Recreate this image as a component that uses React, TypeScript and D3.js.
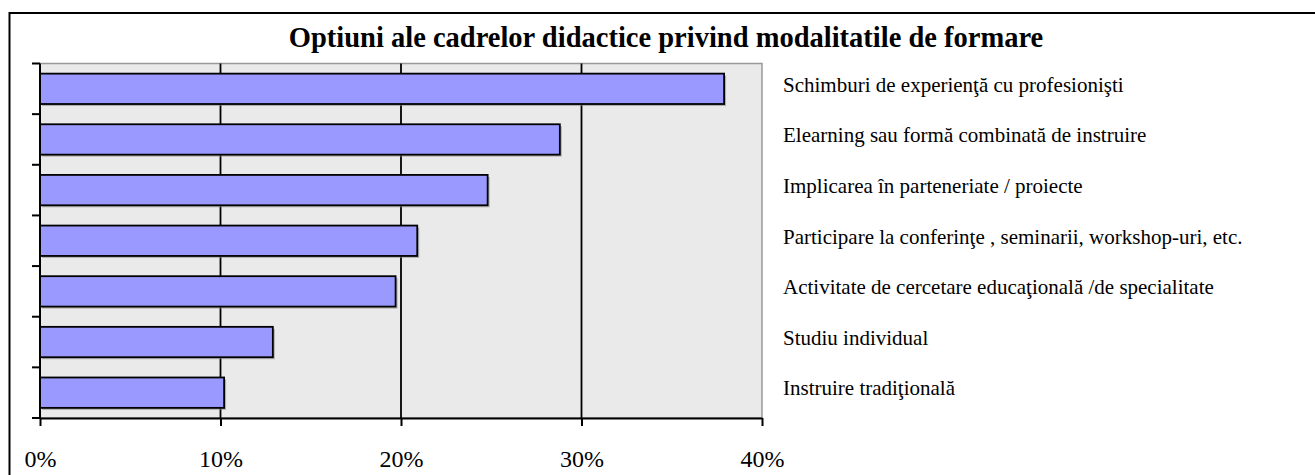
import React, { useRef, useEffect } from 'react';
import * as d3 from 'd3';

const categories = [
  'Schimburi de experienţă cu profesionişti',
  'Elearning sau formă combinată de instruire',
  'Implicarea în parteneriate / proiecte',
  'Participare la conferinţe , seminarii, workshop-uri, etc.',
  'Activitate de cercetare educaţională /de specialitate',
  'Studiu individual',
  'Instruire tradiţională',
];
const values = [37.9, 28.8, 24.8, 20.9, 19.7, 12.9, 10.2];
const xTicks = [0, 10, 20, 30, 40];
const title = 'Optiuni ale cadrelor didactice privind modalitatile de formare';

const App = () => {
  const ref = useRef<HTMLDivElement>(null);

  useEffect(() => {
    const width = 1315;
    const height = 475;
    const font = "'Liberation Serif', 'DejaVu Serif', serif";

    // plot area
    const left = 40, right = 762, top = 63.5, bottom = 418;

    d3.select(ref.current).selectAll('svg').remove();

    const svg = d3.select(ref.current)
      .append('svg')
      .attr('width', width)
      .attr('height', height)
      .attr('font-family', font)
      .style('position', 'absolute')
      .style('left', 0)
      .style('top', 0);

    // outer chart border (runs off the right/bottom of the picture)
    svg.append('rect')
      .attr('x', 9.5).attr('y', 13)
      .attr('width', 1330).attr('height', 500)
      .attr('fill', '#fff')
      .attr('stroke', '#000')
      .attr('stroke-width', 2);

    const x = d3.scaleLinear().domain([0, 40]).range([left, right]);
    const y = d3.scaleBand<string>()
      .domain(categories)
      .range([top, bottom])
      .paddingInner(0.4)
      .paddingOuter(0.2);

    // background
    svg.append('rect')
      .attr('x', left).attr('y', top)
      .attr('width', right - left).attr('height', bottom - top)
      .attr('fill', '#eaeaea')
      .attr('stroke', '#999')
      .attr('stroke-width', 1.5);

    // gridlines
    svg.append('g')
      .selectAll('line')
      .data(xTicks.filter((d) => d > 0 && d < 40))
      .enter().append('line')
      .attr('x1', (d) => x(d)).attr('x2', (d) => x(d))
      .attr('y1', top).attr('y2', bottom)
      .attr('stroke', '#000')
      .attr('stroke-width', 1.8);

    // bar shadows
    svg.append('g')
      .selectAll('rect')
      .data(values)
      .enter().append('rect')
      .attr('x', x(0) + 2)
      .attr('y', (d, i) => (y(categories[i]) as number) + 2)
      .attr('width', (d) => x(d) - x(0))
      .attr('height', y.bandwidth())
      .attr('fill', '#888')
      .attr('opacity', 0.6);

    // bars
    svg.append('g')
      .selectAll('rect')
      .data(values)
      .enter().append('rect')
      .attr('x', x(0))
      .attr('y', (d, i) => y(categories[i]) as number)
      .attr('width', (d) => x(d) - x(0))
      .attr('height', y.bandwidth())
      .attr('fill', '#9999ff')
      .attr('stroke', '#000')
      .attr('stroke-width', 1.8);

    // bottom axis
    const xAxis = svg.append('g')
      .attr('transform', `translate(0, ${bottom})`)
      .call(d3.axisBottom(x).tickValues(xTicks).tickSize(8).tickSizeOuter(0).tickFormat((d) => `${d}%`))
      .attr('font-family', font)
      .attr('font-size', 24);
    xAxis.select('.domain').attr('stroke', '#000').attr('stroke-width', 2);
    xAxis.selectAll('.tick line').attr('stroke', '#000').attr('stroke-width', 2);
    xAxis.selectAll('.tick text')
      .attr('y', 32)
      .attr('dy', '0.71em')
      .attr('fill', '#000');

    // left axis with ticks on category boundaries
    const step = (bottom - top) / categories.length;
    const boundaries = d3.range(categories.length + 1).map((i) => top + i * step);
    svg.append('line')
      .attr('x1', left).attr('x2', left)
      .attr('y1', top).attr('y2', bottom)
      .attr('stroke', '#000').attr('stroke-width', 2);
    svg.append('g')
      .selectAll('line')
      .data(boundaries)
      .enter().append('line')
      .attr('x1', left - 8).attr('x2', left)
      .attr('y1', (d) => d).attr('y2', (d) => d)
      .attr('stroke', '#000').attr('stroke-width', 2);

    // category labels on the right
    svg.append('g')
      .selectAll('text')
      .data(categories)
      .enter().append('text')
      .attr('x', 783)
      .attr('y', (d) => (y(d) as number) + y.bandwidth() / 2 - 2)
      .attr('dominant-baseline', 'middle')
      .attr('font-size', 21)
      .text((d) => d);

    // title
    svg.append('text')
      .attr('x', 666)
      .attr('y', 47)
      .attr('text-anchor', 'middle')
      .attr('font-size', 28.5)
      .attr('font-weight', 'bold')
      .text(title);
  }, []);

  return <div ref={ref} />;
};

export default App;
